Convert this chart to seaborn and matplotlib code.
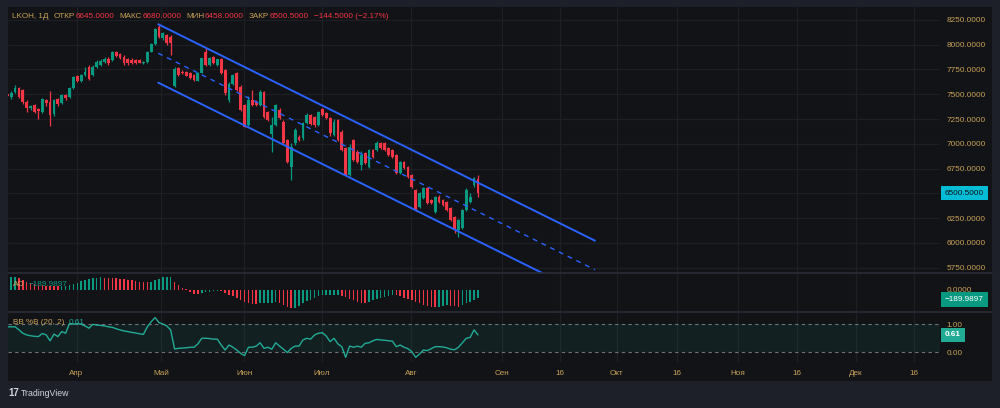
import matplotlib
matplotlib.use("Agg")
import matplotlib.pyplot as plt
from matplotlib.patches import Rectangle
from matplotlib.lines import Line2D
import matplotlib.transforms as mtransforms
import numpy as np
import pandas as pd
import seaborn as sns

# ---------------- data ----------------
open_ = [7503, 7469, 7526, 7560, 7543, 7425, 7358, 7391, 7348, 7324,
         7442, 7425, 7297, 7452, 7408, 7492, 7469, 7560, 7684, 7637,
         7694, 7779, 7694, 7779, 7795, 7829, 7860, 7846, 7923, 7903,
         7880, 7853, 7850, 7850, 7846, 7812, 7822, 7930, 8008, 8176,
         8065, 8098, 8082, 7583, 7762, 7728, 7728, 7711, 7694, 7637,
         7718, 7930, 7800, 7880, 7800, 7853, 7740, 7442, 7600, 7711,
         7577, 7391, 7189, 7442, 7425, 7391, 7526, 7324, 7100, 7189,
         7341, 7223, 7038, 6769, 7004, 7071, 7055, 7206, 7290, 7274,
         7189, 7348, 7308, 7257, 7088, 7240, 7122, 6954, 6684, 7038,
         6920, 6786, 6903, 6769, 6937, 6937, 7011, 7011, 6954, 6937,
         6886, 6701, 6819, 6769, 6684, 6533, 6365, 6449, 6550, 6432,
         6314, 6466, 6432, 6415, 6348, 6264, 6129, 6146, 6331, 6415,
         6583, 6645]
high = [7515, 7530, 7593, 7575, 7555, 7440, 7395, 7400, 7360, 7460,
        7455, 7536, 7450, 7462, 7500, 7505, 7572, 7682, 7697, 7705,
        7779, 7792, 7800, 7842, 7852, 7872, 7880, 7935, 7937, 7912,
        7892, 7870, 7862, 7858, 7855, 7835, 7938, 8015, 8172, 8205,
        8130, 8110, 8095, 7775, 7780, 7740, 7738, 7720, 7700, 7725,
        7870, 7968, 7872, 7890, 7860, 7862, 7750, 7620, 7705, 7722,
        7590, 7400, 7480, 7543, 7440, 7540, 7535, 7335, 7274, 7400,
        7360, 7240, 7050, 7010, 7160, 7090, 7215, 7310, 7300, 7285,
        7335, 7362, 7320, 7270, 7250, 7252, 7135, 6970, 6995, 7050,
        6935, 6930, 6915, 6950, 6950, 7025, 7022, 7020, 6965, 6948,
        6898, 6830, 6830, 6780, 6695, 6545, 6510, 6560, 6560, 6445,
        6475, 6478, 6442, 6425, 6358, 6275, 6240, 6340, 6550, 6500,
        6660, 6680]
low = [7470, 7455, 7515, 7465, 7405, 7324, 7345, 7315, 7247, 7315,
       7380, 7179, 7285, 7380, 7398, 7440, 7460, 7550, 7628, 7628,
       7688, 7645, 7688, 7770, 7788, 7820, 7800, 7840, 7878, 7858,
       7798, 7800, 7805, 7808, 7812, 7805, 7815, 7925, 8000, 8070,
       8050, 8000, 7896, 7575, 7688, 7705, 7680, 7655, 7638, 7630,
       7712, 7790, 7790, 7805, 7790, 7700, 7490, 7425, 7590, 7535,
       7330, 7165, 7180, 7380, 7385, 7385, 7265, 7232, 6920, 7180,
       7250, 6995, 6802, 6634, 6990, 7030, 7040, 7195, 7190, 7170,
       7180, 7280, 7255, 7080, 7080, 7030, 6930, 6675, 6675, 6825,
       6810, 6735, 6795, 6760, 6860, 6925, 6945, 6930, 6878, 6860,
       6690, 6690, 6745, 6655, 6555, 6320, 6355, 6440, 6390, 6388,
       6300, 6405, 6372, 6322, 6220, 6095, 6062, 6135, 6320, 6405,
       6560, 6458]
close = [7482, 7516, 7560, 7476, 7425, 7358, 7381, 7324, 7334, 7449,
         7408, 7290, 7442, 7402, 7492, 7459, 7560, 7671, 7637, 7694,
         7728, 7654, 7779, 7829, 7839, 7853, 7820, 7923, 7886, 7870,
         7812, 7812, 7815, 7818, 7819, 7829, 7930, 8008, 8160, 8082,
         8115, 8014, 8014, 7750, 7694, 7711, 7684, 7661, 7644, 7718,
         7863, 7800, 7863, 7812, 7853, 7711, 7510, 7600, 7694, 7543,
         7341, 7173, 7442, 7391, 7391, 7526, 7274, 7240, 7189, 7391,
         7257, 7004, 6819, 6971, 7139, 7038, 7206, 7290, 7200, 7190,
         7324, 7290, 7265, 7105, 7223, 7038, 6937, 6684, 6971, 6836,
         6819, 6887, 6802, 6937, 6870, 7011, 6954, 6937, 6886, 6870,
         6701, 6819, 6752, 6668, 6567, 6331, 6499, 6550, 6398, 6398,
         6466, 6415, 6381, 6331, 6230, 6129, 6230, 6331, 6533, 6466,
         6651, 6500.5]

ao = [280, 304, 312, 280, 240, 200, 160, 144, 120, 112,
      104, 96, 96, 88, 96, 104, 120, 144, 176, 208,
      240, 264, 280, 296, 304, 300, 296, 288, 280, 272,
      264, 248, 232, 216, 200, 192, 184, 200, 240, 272,
      304, 312, 320, 200, 128, 56, 16, -56, -88, -96,
      -80, -56, -40, -24, -16, -32, -80, -120, -152, -192,
      -240, -280, -312, -328, -336, -320, -310, -305, -300, -298,
      -310, -350, -400, -440, -420, -380, -320, -270, -230, -190,
      -150, -125, -118, -114, -112, -110, -135, -170, -220, -250,
      -280, -300, -305, -290, -250, -215, -190, -170, -140, -120,
      -130, -150, -180, -210, -240, -280, -320, -360, -390, -410,
      -415, -400, -380, -370, -378, -395, -400, -360, -320, -280,
      -240, -189.9897]

pctb = [0.90, 0.90, 0.90, 0.79, 0.67, 0.61, 0.58, 0.56, 0.55, 0.66,
        0.61, 0.40, 0.64, 0.55, 0.73, 0.67, 1.02, 0.99, 1.02, 0.99,
        0.93, 0.85, 0.99, 0.96, 0.95, 0.93, 0.90, 0.88, 0.83, 0.79,
        0.75, 0.73, 0.70, 0.68, 0.65, 0.63, 0.90, 1.08, 1.23, 1.05,
        1.00, 0.93, 0.79, 0.11, 0.13, 0.14, 0.15, 0.17, 0.17, 0.29,
        0.49, 0.49, 0.48, 0.46, 0.46, 0.25, 0.07, 0.25, 0.17, 0.07,
        -0.05, -0.13, 0.17, 0.17, 0.21, 0.33, 0.13, 0.17, 0.10, 0.33,
        0.21, 0.10, -0.02, 0.13, 0.21, 0.21, 0.43, 0.49, 0.46, 0.61,
        0.67, 0.69, 0.57, 0.37, 0.49, 0.29, 0.19, -0.19, 0.21, 0.17,
        0.21, 0.17, 0.31, 0.33, 0.40, 0.45, 0.43, 0.42, 0.40, 0.39,
        0.19, 0.25, 0.17, 0.12, 0.01, -0.19, -0.07, 0.07, 0.05, 0.12,
        0.19, 0.19, 0.18, 0.15, 0.10, 0.08, 0.17, 0.33, 0.49, 0.52,
        0.79, 0.61]

# regression channel anchors (bar index, price)
chan_x = [38.8, 151.1]
chan_upper = [8207, 6021]
chan_mid = [7914, 5728]
chan_lower = [7617, 5431]

price_ticks = [5750, 6000, 6250, 6500, 6750, 7000, 7250, 7500, 7750, 8000, 8250]
time_tick_pos = [17.8, 39.5, 60.9, 80.9, 103.8, 127.2, 142.1, 156.7, 172.2, 187.8, 203.0, 218.2, 233.1]
time_tick_lab = ["Апр", "Май", "Июн", "Июл", "Авг", "Сен", "16", "Окт", "16", "Ноя", "16", "Дек", "16"]

last_open, last_high, last_low, last_close = 6645.0, 6680.0, 6458.0, 6500.5
change, change_pct = -144.5, -2.17
ao_last = -189.9897
pctb_last = 0.61

# ---------------- style ----------------
sns.set_theme(style="dark")
plt.rcParams["font.family"] = ["Liberation Sans", "DejaVu Sans"]

OUTER = "#1e2029"
PANEL = "#121317"
GRID = "#1d1f25"
SEP = "#2a2d36"
AMBER = "#c9a257"
UP = "#089981"
DOWN = "#f23645"
BLUE = "#2962ff"
FS = 5.9

W, H = 1000, 408
fig = plt.figure(figsize=(W / 100, H / 100), dpi=100, facecolor=OUTER)


def fx(px):
    return px / W


def fy(py):
    return 1 - py / H


fig.patches.append(Rectangle((fx(8), fy(381)), fx(984), 374 / H, transform=fig.transFigure,
                             facecolor=PANEL, edgecolor="none", zorder=-20))

ax_p = fig.add_axes([fx(8), fy(272.5), fx(932), 265.5 / H])
ax_ao = fig.add_axes([fx(8), fy(311), fx(932), 37 / H], sharex=ax_p)
ax_bb = fig.add_axes([fx(8), fy(362), fx(932), 49 / H], sharex=ax_p)

for ax in (ax_p, ax_ao, ax_bb):
    ax.set_facecolor(PANEL)
    for s in ax.spines.values():
        s.set_visible(False)
    ax.grid(False)
    for xp in time_tick_pos:
        ax.axvline(xp, color=GRID, lw=0.9, zorder=0)

n = len(close)
df = pd.DataFrame({"x": np.arange(n), "open": open_, "high": high, "low": low, "close": close,
                   "ao": ao, "pctb": pctb})
df["up"] = df["close"] >= df["open"]
df["col"] = np.where(df["up"], UP, DOWN)

# ---- price pane ----
for lv in price_ticks:
    ax_p.axhline(lv, color=GRID, lw=0.9, zorder=0)
ax_p.vlines(df["x"], df["low"], df["high"], colors=df["col"], lw=0.9, zorder=2)
body_b = np.minimum(df["open"], df["close"])
body_h = np.maximum(np.abs(df["close"] - df["open"]), 8)
ax_p.bar(df["x"], body_h, bottom=body_b, width=0.72, color=df["col"], linewidth=0, zorder=3)

chan = pd.DataFrame({"x": chan_x, "upper": chan_upper, "mid": chan_mid, "lower": chan_lower})
sns.lineplot(data=chan, x="x", y="upper", ax=ax_p, color=BLUE, lw=1.4, zorder=4)
sns.lineplot(data=chan, x="x", y="lower", ax=ax_p, color=BLUE, lw=1.4, zorder=4)
sns.lineplot(data=chan, x="x", y="mid", ax=ax_p, color=BLUE, lw=1.0, zorder=4, linestyle=(0, (3.5, 3.5)))

ax_p.set_xlim(0.18, 239.8)
ax_p.set_ylim(5700, 8381)
ax_p.yaxis.tick_right()
ax_p.set_yticks(price_ticks)
ax_p.set_yticklabels(["" if v == 6500 else f"{v:.4f}" for v in price_ticks])
ax_p.tick_params(axis="y", length=0, pad=4.5, labelcolor=AMBER, labelsize=FS)
ax_p.tick_params(axis="x", length=0, labelbottom=False)
ax_p.set_xlabel("")
ax_p.set_ylabel("")

tr_p = mtransforms.blended_transform_factory(ax_p.transAxes, ax_p.transData)
ax_p.text(1.0 + 5 / 932, last_close, f"{last_close:.4f}", transform=tr_p, ha="left", va="center",
          fontsize=FS, color="#0d1117", clip_on=False, zorder=10,
          bbox=dict(boxstyle="square,pad=0.45", facecolor="#00bcd4", edgecolor="none"))

# ---- AO pane ----
ao_col = [UP] + [UP if ao[i] - ao[i - 1] > 0 else DOWN for i in range(1, n)]
ax_ao.bar(df["x"], df["ao"], width=0.38, color=ao_col, linewidth=0, zorder=3)
ax_ao.set_ylim(-504, 384)
ax_ao.yaxis.tick_right()
ax_ao.set_yticks([0])
ax_ao.set_yticklabels(["0.0000"])
ax_ao.tick_params(axis="y", length=0, pad=4.5, labelcolor=AMBER, labelsize=FS)
ax_ao.tick_params(axis="x", length=0, labelbottom=False)
ax_ao.set_xlabel("")
ax_ao.set_ylabel("")
tr_ao = mtransforms.blended_transform_factory(ax_ao.transAxes, ax_ao.transData)
ax_ao.text(1.0 + 5 / 932, ao_last - 40, f"\u2212{abs(ao_last):.4f}", transform=tr_ao, ha="left",
           va="center", fontsize=FS, color="white", clip_on=False, zorder=10,
           bbox=dict(boxstyle="square,pad=0.45", facecolor=UP, edgecolor="none"))

# ---- BB %B pane ----
ax_bb.axhspan(0, 1, color="#26a69a", alpha=0.09, lw=0, zorder=1)
for lv in (0, 1):
    ax_bb.axhline(lv, color="#6f727c", lw=0.8, ls=(0, (3, 3)), zorder=2)
sns.lineplot(data=df, x="x", y="pctb", ax=ax_bb, color="#22ab94", lw=1.0, zorder=4)
ax_bb.set_ylim(-0.357, 1.393)
ax_bb.yaxis.tick_right()
ax_bb.set_yticks([0, 1])
ax_bb.set_yticklabels(["0.00", "1.00"])
ax_bb.tick_params(axis="y", length=0, pad=4.5, labelcolor=AMBER, labelsize=FS)
ax_bb.set_xticks(time_tick_pos)
ax_bb.set_xticklabels(time_tick_lab)
ax_bb.tick_params(axis="x", length=0, pad=6, labelcolor=AMBER, labelsize=FS)
ax_bb.set_xlabel("")
ax_bb.set_ylabel("")
ax_bb.set_xlim(0.18, 239.8)
tr_bb = mtransforms.blended_transform_factory(ax_bb.transAxes, ax_bb.transData)
ax_bb.text(1.0 + 5 / 932, pctb_last, f"{pctb_last:.2f}", transform=tr_bb, ha="left", va="center",
           fontsize=FS, color="white", fontweight="bold", clip_on=False, zorder=10,
           bbox=dict(boxstyle="square,pad=0.45", facecolor="#22ab94", edgecolor="none"))

# pane separators
for yy in (273.3, 312.0):
    fig.add_artist(Line2D([fx(8), fx(992)], [fy(yy), fy(yy)], transform=fig.transFigure,
                          color=SEP, lw=1.2, zorder=5))

# ---- header / legends (chained so pieces never overlap) ----
renderer = fig.canvas.get_renderer()


def chain(x0, y, pieces):
    x = x0
    for txt, col, gap in pieces:
        x += gap
        t = fig.text(fx(x), fy(y), txt, color=col, fontsize=FS, va="center")
        bb = t.get_window_extent(renderer=renderer)
        x += bb.width


chain(12.5, 16.5, [
    ("LKOH, 1Д", AMBER, 0),
    ("ОТКР", AMBER, 5), (f"{last_open:.4f}", DOWN, 0.5),
    ("МАКС", AMBER, 5), (f"{last_high:.4f}", DOWN, 0.5),
    ("МИН", AMBER, 5), (f"{last_low:.4f}", DOWN, 0.5),
    ("ЗАКР", AMBER, 5), (f"{last_close:.4f}", DOWN, 0.5),
    (f"\u2212{abs(change):.4f} (\u2212{abs(change_pct):.2f}%)", DOWN, 5),
])
chain(13, 285, [("AO", AMBER, 0), (f"\u2212{abs(ao_last):.4f}", UP, 4)])
chain(13, 322.5, [("BB %B (20, 2)", AMBER, 0), (f"{pctb_last:.2f}", "#22ab94", 4)])

# TradingView mark
fig.text(fx(8), fy(393), "17", color="#d1d4dc", fontsize=7, fontweight="bold", va="center")
fig.text(fx(21), fy(393), "TradingView", color="#d1d4dc", fontsize=6.3, va="center")

fig.savefig("out.png", dpi=100, facecolor=OUTER)
